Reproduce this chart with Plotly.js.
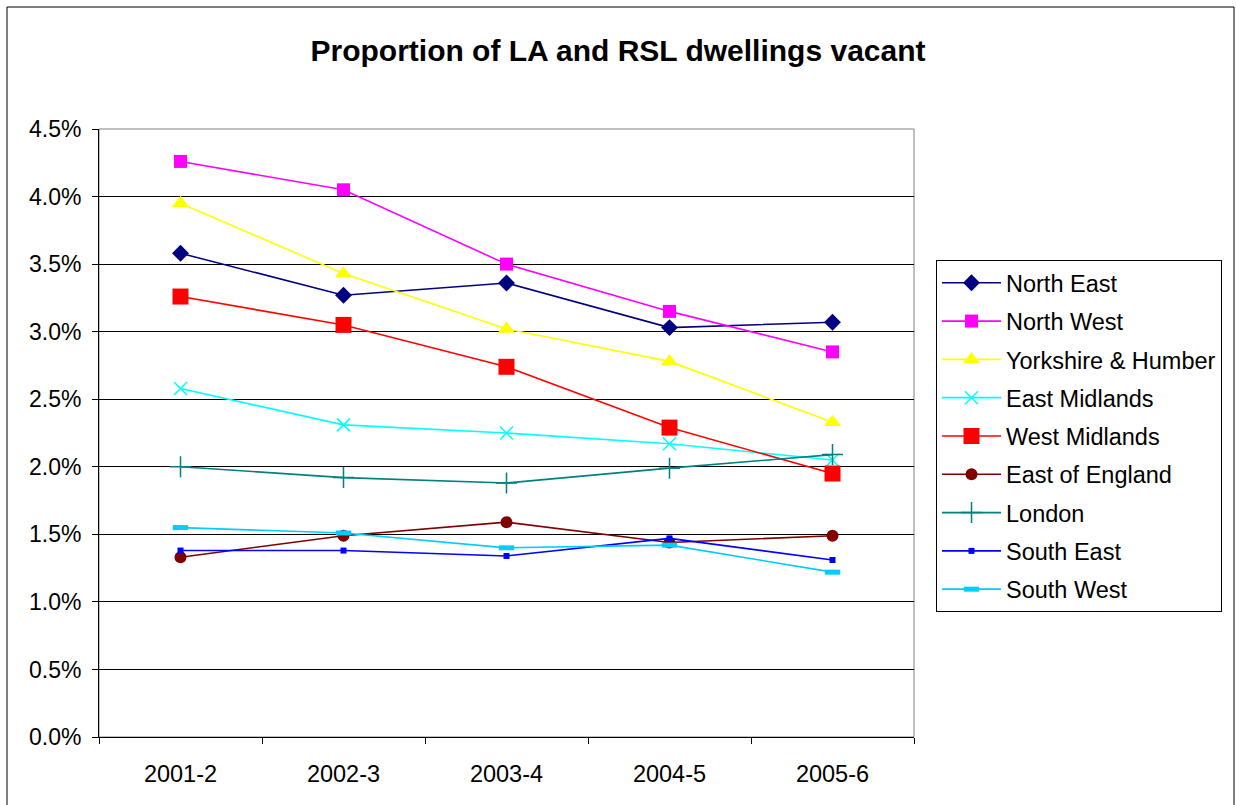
<!DOCTYPE html>
<html>
<head>
<meta charset="utf-8">
<script src="https://cdn.plot.ly/plotly-3.0.1.min.js"></script>
<style>html,body{margin:0;padding:0;background:#fff;}#chart{width:1236px;height:805px;}</style>
</head>
<body>
<div id="chart"></div>
<script>
const years = ["2001-2", "2002-3", "2003-4", "2004-5", "2005-6"];
const northEast = [0.0358, 0.0327, 0.0336, 0.0303, 0.0307];
const northWest = [0.0426, 0.0405, 0.0350, 0.0315, 0.0285];
const yorkshire = [0.0395, 0.0343, 0.0302, 0.0278, 0.0233];
const eastMidlands = [0.0258, 0.0231, 0.0225, 0.0217, 0.0205];
const westMidlands = [0.0326, 0.0305, 0.0274, 0.0229, 0.0195];
const eastOfEngland = [0.0133, 0.0149, 0.0159, 0.0144, 0.0149];
const london = [0.0200, 0.0192, 0.0188, 0.0199, 0.0209];
const southEast = [0.0138, 0.0138, 0.0134, 0.0147, 0.0131];
const southWest = [0.0155, 0.0151, 0.0140, 0.0142, 0.0122];

const seriesNames = ["North East", "North West", "Yorkshire & Humber", "East Midlands", "West Midlands", "East of England", "London", "South East", "South West"];
const seriesValues = [northEast, northWest, yorkshire, eastMidlands, westMidlands, eastOfEngland, london, southEast, southWest];
const colors = ["#000080", "#FF00FF", "#FFFF00", "#00FFFF", "#FF0000", "#800000", "#008080", "#0000FF", "#00CCFF"];
const markers = [
  {symbol: "diamond", size: 13},
  {symbol: "square", size: 13},
  {symbol: "triangle-up", size: 15},
  {symbol: "x-thin-open", size: 13, line: {width: 1.5}},
  {symbol: "square", size: 16},
  {symbol: "circle", size: 12},
  {symbol: "cross-thin-open", size: 15, line: {width: 1.5}},
  {symbol: "square", size: 6},
  {symbol: "line-ew-open", size: 11, line: {width: 5}}
];

const traces = seriesNames.map((name, i) => {
  const m = Object.assign({color: colors[i]}, markers[i]);
  if (m.line) m.line = Object.assign({color: colors[i]}, m.line);
  return {
    type: "scatter", mode: "lines+markers", name: name, legendgroup: "g" + i,
    x: years, y: seriesValues[i],
    line: {color: colors[i], width: 1.6},
    marker: m
  };
});

const font = "Arial, 'Liberation Sans', sans-serif";
const layout = {
  width: 1236, height: 805,
  margin: {l: 99, r: 322, t: 129, b: 68},
  paper_bgcolor: "#fff", plot_bgcolor: "#fff",
  font: {family: font, color: "#000", size: 23},
  title: {text: "<b>Proportion of LA and RSL dwellings vacant</b>", font: {family: font, size: 30, color: "#000"},
          x: 0.5, xref: "container", y: 1 - 50/805, yref: "container", yanchor: "middle"},
  xaxis: {type: "category", range: [-0.5, 4.5], showgrid: false, showline: true, linecolor: "#000", linewidth: 1,
          ticks: "outside", tickson: "boundaries", ticklen: 6, tickcolor: "#000", ticklabelstandoff: 16,
          tickfont: {size: 23.5}},
  yaxis: {range: [0, 0.045], dtick: 0.005, tickformat: ".1%", showgrid: true, gridcolor: "#000", gridwidth: 1,
          zeroline: false, showline: true, linecolor: "#000", linewidth: 1, ticks: "outside", ticklen: 6,
          tickcolor: "#000", ticklabelstandoff: 6, tickfont: {size: 23}},
  legend: {x: (936 - 99) / 815, y: (737 - 260) / 608, xanchor: "left", yanchor: "top",
           bgcolor: "#fff", bordercolor: "#000", borderwidth: 1, font: {size: 23.5},
           tracegroupgap: 4.75, itemwidth: 59},
  shapes: [
    {type: "rect", xref: "paper", yref: "paper", x0: 0, x1: 1, y0: 0, y1: 1, line: {color: "#808080", width: 1}, layer: "below"},
    {type: "rect", xref: "paper", yref: "paper", x0: (7 - 99) / 815, x1: (1234 - 99) / 815, y0: (737 - 812) / 608, y1: (737 - 7) / 608, line: {color: "#000", width: 1}}
  ],
  showlegend: true
};

Plotly.newPlot("chart", traces, layout, {displayModeBar: false, staticPlot: true});
</script>
</body>
</html>
